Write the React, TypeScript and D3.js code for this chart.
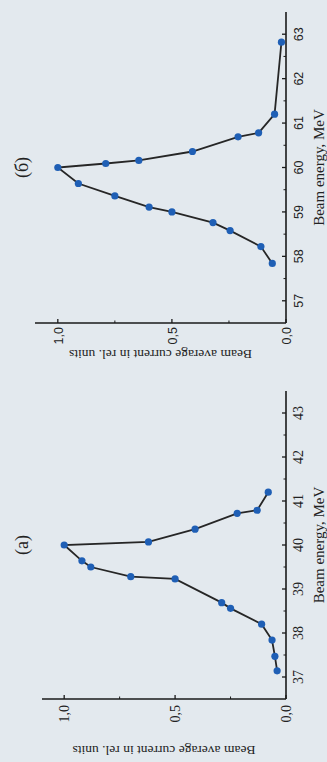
import React from "react";
import * as d3 from "d3";

const energyA = [37.14, 37.47, 37.84, 38.2, 38.56, 38.69, 39.23, 39.28, 39.5, 39.64, 40.0, 40.07, 40.36, 40.72, 40.79, 41.2];
const currentA = [0.04, 0.05, 0.063, 0.11, 0.25, 0.29, 0.5, 0.7, 0.88, 0.92, 1.0, 0.62, 0.41, 0.22, 0.13, 0.08];
const energyB = [57.84, 58.22, 58.58, 58.76, 59.0, 59.11, 59.36, 59.64, 60.0, 60.09, 60.16, 60.36, 60.69, 60.78, 61.2, 62.82];
const currentB = [0.06, 0.11, 0.245, 0.32, 0.5, 0.6, 0.75, 0.91, 1.0, 0.79, 0.645, 0.41, 0.21, 0.12, 0.05, 0.02];
const energyTicksA = [37, 38, 39, 40, 41, 42, 43];
const energyTicksB = [57, 58, 59, 60, 61, 62, 63];
const currentTicks = [0, 0.5, 1.0];
const currentTickLabels = ["0,0", "0,5", "1,0"];
const titles = ["(a)", "(б)"];
const xLabel = "Beam energy, MeV";
const yLabel = "Beam average current in rel. units";

const W = 762;
const H = 327;

type PanelProps = {
  energy: number[];
  current: number[];
  eTicks: number[];
  eDomain: [number, number];
  x0: number;
  x1: number;
  yTop: number;
  title: string;
  tickFont: string;
  tickSize: number;
  tickGap: number;
  yLabelOffset: number;
  yLabelSize: number;
};

function Panel({ energy, current, eTicks, eDomain, x0, x1, yTop, title, tickFont, tickSize, tickGap, yLabelOffset, yLabelSize }: PanelProps) {
  const yBase = 286;
  const x = d3.scaleLinear().domain(eDomain).range([x0, x1]);
  const y = d3.scaleLinear().domain([0, 1.1]).range([yBase, yTop]);
  const pts = energy.map((e, i) => [x(e), y(current[i])] as [number, number]);
  const line = d3.line<[number, number]>()(pts) || "";
  const minorE = d3.range(Math.ceil(eDomain[0]) + 0.5, eDomain[1], 1);
  const minorC = [0.25, 0.75];
  const axisCol = "#1a1a1a";
  const mid = (eDomain[0] + eDomain[1]) / 2;
  return (
    <g>
      <line x1={x0} x2={x1} y1={yBase} y2={yBase} stroke={axisCol} strokeWidth={1.6} />
      <line x1={x0} x2={x0} y1={yBase} y2={y(1.1)} stroke={axisCol} strokeWidth={1.6} />
      {eTicks.map((t) => (
        <g key={"e" + t}>
          <line x1={x(t)} x2={x(t)} y1={yBase} y2={yBase - 4} stroke={axisCol} strokeWidth={1.3} />
          <text x={x(t)} y={yBase + 17} textAnchor="middle" fontFamily={tickFont} fontSize={tickSize} fill="#222">
            {t}
          </text>
        </g>
      ))}
      {minorE.map((t) => (
        <line key={"me" + t} x1={x(t)} x2={x(t)} y1={yBase} y2={yBase - 2.5} stroke={axisCol} strokeWidth={1} />
      ))}
      {currentTicks.map((t, i) => (
        <g key={"c" + t}>
          <line x1={x0} x2={x0 + 4} y1={y(t)} y2={y(t)} stroke={axisCol} strokeWidth={1.3} />
          <text x={x0 - tickGap} y={y(t) + 5} textAnchor="end" fontFamily={tickFont} fontSize={tickSize} fill="#222">
            {currentTickLabels[i]}
          </text>
        </g>
      ))}
      {minorC.map((t) => (
        <line key={"mc" + t} x1={x0} x2={x0 + 2.5} y1={y(t)} y2={y(t)} stroke={axisCol} strokeWidth={1} />
      ))}
      <path d={line} fill="none" stroke="#262626" strokeWidth={1.8} />
      {pts.map((p, i) => (
        <circle key={i} cx={p[0]} cy={p[1]} r={3.6} fill="#1f5fb5" />
      ))}
      <text x={x(mid)} y={28} textAnchor="middle" fontFamily="Liberation Serif" fontSize={18} fill="#222">
        {title}
      </text>
      <text x={x(mid)} y={324} textAnchor="middle" fontFamily="Liberation Serif" fontSize={15} fill="#222">
        {xLabel}
      </text>
      <text
        transform={`translate(${x0 - yLabelOffset},${(yBase + y(1.1)) / 2}) rotate(-90)`}
        textAnchor="middle"
        fontFamily="Liberation Serif"
        fontSize={yLabelSize}
        fill="#222"
      >
        {yLabel}
      </text>
    </g>
  );
}

export default function App() {
  return (
    <svg width={H} height={W} style={{ position: "absolute", left: 0, top: 0, display: "block" }}>
      <rect x={0} y={0} width={H} height={W} fill="#e3e9ee" />
      <g transform={`translate(0,${W}) rotate(-90)`}>
        <Panel
          energy={energyA}
          current={currentA}
          eTicks={energyTicksA}
          eDomain={[36.5, 43.5]}
          x0={63}
          x1={371}
          yTop={42}
          title={titles[0]}
          tickFont="Liberation Serif"
          tickSize={14}
          tickGap={6}
          yLabelOffset={47}
          yLabelSize={13.5}
        />
        <Panel
          energy={energyB}
          current={currentB}
          eTicks={energyTicksB}
          eDomain={[56.5, 63.5]}
          x0={439}
          x1={750}
          yTop={35}
          title={titles[1]}
          tickFont="Liberation Sans"
          tickSize={12.5}
          tickGap={4}
          yLabelOffset={27}
          yLabelSize={13.5}
        />
      </g>
    </svg>
  );
}
